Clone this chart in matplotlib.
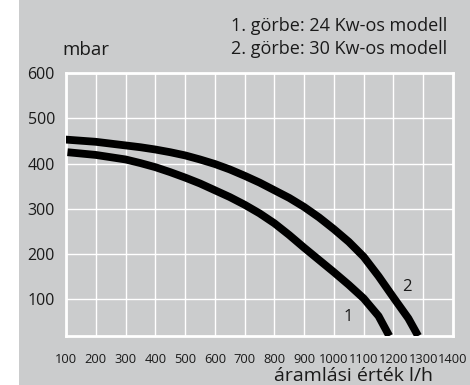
import matplotlib
matplotlib.use("Agg")
import matplotlib.pyplot as plt

# data
x_ticks = [100, 200, 300, 400, 500, 600, 700, 800, 900, 1000, 1100, 1200, 1300, 1400]
y_ticks = [100, 200, 300, 400, 500, 600]

curve1_x = [105, 200, 300, 350, 400, 450, 500, 550, 600, 650, 700, 750, 800, 850,
            900, 950, 1000, 1050, 1100, 1150, 1186]
curve1_y = [425, 419, 409, 401, 392, 381, 369, 356, 341, 326, 309, 290, 268, 242,
            214, 187, 160, 132, 102, 63, 19]

curve2_x = [97, 200, 300, 350, 400, 450, 500, 550, 600, 650, 700, 750, 800, 850,
            900, 950, 1000, 1050, 1100, 1150, 1200, 1250, 1283]
curve2_y = [453, 448, 440, 436, 431, 425, 418, 409, 399, 387, 373, 358, 341, 324,
            304, 281, 255, 227, 194, 151, 104, 58, 19]

legend_lines = ["1. görbe: 24 Kw-os modell", "2. görbe: 30 Kw-os modell"]
curve_labels = ["1", "2"]
curve_label_pos = [(1048, 61), (1244, 127)]
y_unit = "mbar"
x_title = "áramlási érték l/h"

plt.rcParams['font.family'] = ['Open Sans', 'DejaVu Sans']
BG = "#cbcccd"
TXT = "#1a1a1a"
GRID = "white"
FRAME = "white"

W, H = 470, 385
fig = plt.figure(figsize=(W / 100, H / 100), dpi=100)
fig.patch.set_facecolor("white")

# grey panel behind everything
bg = fig.add_axes([19 / W, 0, 1 - 19 / W, 1])
bg.set_zorder(0)
bg.set_facecolor(BG)
bg.set_xticks([])
bg.set_yticks([])
for s in bg.spines.values():
    s.set_visible(False)

left, right, top, bottom = 66, 453, 73, 336
ax = fig.add_axes([left / W, (H - bottom) / H, (right - left) / W, (bottom - top) / H])
ax.set_zorder(2)
ax.patch.set_alpha(0)
ax.set_xlim(100, 1400)
ax.set_ylim(19, 600)
ax.set_xticks(x_ticks)
ax.set_yticks(y_ticks)
ax.set_xticklabels([str(v) for v in x_ticks], fontsize=9.3, color=TXT)
ax.set_yticklabels([str(v) for v in y_ticks], fontsize=11.5, color=TXT)
ax.tick_params(axis='both', length=0)
ax.tick_params(axis='x', pad=12)
ax.tick_params(axis='y', pad=8)
ax.grid(True, color=GRID, linewidth=1.0, zorder=1)
ax.set_axisbelow(True)
for s in ax.spines.values():
    s.set_color(FRAME)
    s.set_linewidth(2.0)
    s.set_zorder(2)

for xs, ys in [(curve1_x, curve1_y), (curve2_x, curve2_y)]:
    ax.plot(xs, ys, color="black", linewidth=5.6, solid_capstyle="butt",
            solid_joinstyle="round", zorder=3)

for lab, (lx, ly) in zip(curve_labels, curve_label_pos):
    ax.text(lx, ly, lab, fontsize=12, color=TXT, ha="center", va="center", zorder=4)

fig.text(447 / W, 1 - 31 / H, legend_lines[0], fontsize=13, color=TXT, ha="right", va="baseline", zorder=5)
fig.text(447 / W, 1 - 54 / H, legend_lines[1], fontsize=13, color=TXT, ha="right", va="baseline", zorder=5)
fig.text(62 / W, 1 - 55 / H, y_unit, fontsize=13.5, color=TXT, ha="left", va="baseline", zorder=5)
fig.text(433 / W, 1 - 381 / H, x_title, fontsize=14, color=TXT, ha="right", va="baseline", zorder=5)

fig.savefig("out.png", dpi=100, facecolor=fig.get_facecolor())
